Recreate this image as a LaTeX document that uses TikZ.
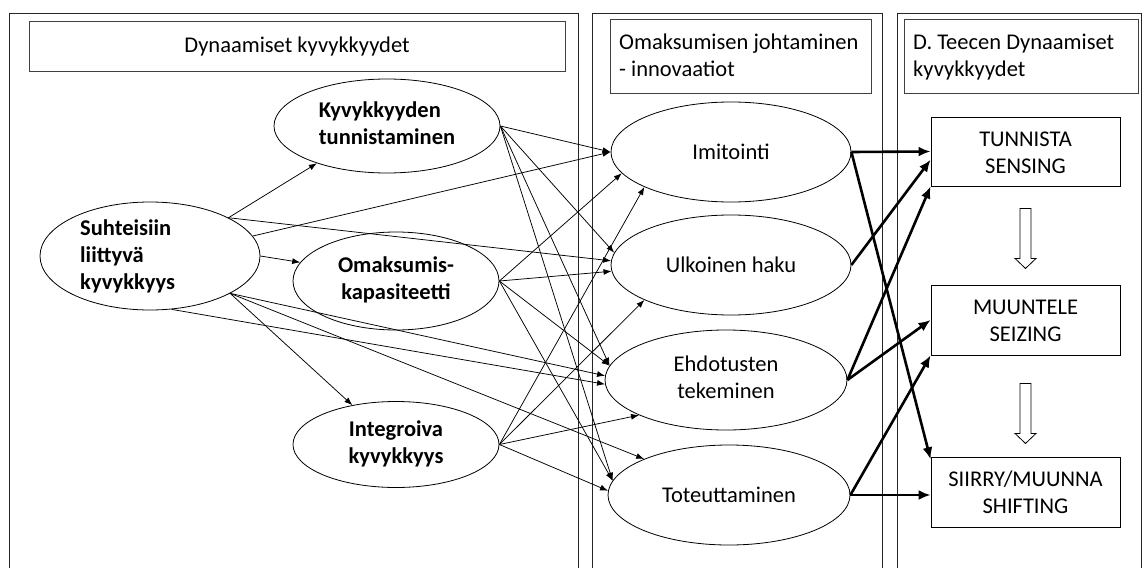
\documentclass[tikz,border=0pt]{standalone}
\usepackage{fontspec}
\setmainfont{Carlito}
\usetikzlibrary{shapes.geometric,arrows.meta,calc}

% a hollow block arrow pointing down, hung from a top-centre coordinate
\newcommand{\hollowdown}[1]{%
  \draw[hollow] ($(#1)+(-5.5,0)$) -- ++(11,0) -- ++(0,50) -- ++(5,0)
    -- ++(-10.5,10) -- ++(-10.5,-10) -- ++(5,0) -- cycle;}
% line strut for capital-letter labels, so they sit centred in their boxes
\newcommand{\capstrut}{\rule[-5.1pt]{0pt}{27pt}}

\begin{document}
\begin{tikzpicture}[x=1pt,y=-1pt,
  every node/.style={font=\fontsize{22.5}{27}\selectfont, inner sep=0pt},
  panel/.style={draw=black!85, line width=0.9pt},
  titlebox/.style={draw=black!75, line width=1pt, rectangle},
  oval/.style={draw, ellipse, line width=0.8pt},
  bold/.style={font=\fontsize{22.5}{27}\selectfont\bfseries},
  stage/.style={draw, rectangle, line width=0.9pt, minimum width=189pt,
    minimum height=69pt, align=center},
  link/.style={line width=0.75pt, -{Latex[length=8pt,width=6pt]}},
  flow/.style={line width=2.6pt, -{Latex[length=12pt,width=10pt]}},
  hollow/.style={draw, line width=0.8pt, fill=white}]

\clip (0,0) rectangle (1142,567);

% three column panels, open at the bottom
\draw[panel] (9,13) rectangle (578,620);
\draw[panel] (592,13) rectangle (882,620);
\draw[panel] (897,13) rectangle (1141,620);

% column headings
\node[titlebox, minimum width=536pt, minimum height=50pt] (h1) at (297,47)
  {Dynaamiset kyvykkyydet};
\node[titlebox, minimum width=261pt, minimum height=74pt] (h2) at (740.5,57) {};
\node[anchor=west, align=left] (h2t) at (619,57.5)
  {\strut Omaksumisen johtaminen\\\strut - innovaatiot};
\node[titlebox, minimum width=234pt, minimum height=74pt] (h3) at (1021,57) {};
\node[anchor=west, align=left] (h3t) at (913,57.5)
  {\strut D. Teecen Dynaamiset\\\strut kyvykkyydet};

% capabilities
\node[oval, minimum width=220pt, minimum height=108pt] (suh) at (150,256) {};
\node[bold, anchor=west, align=left] (suht) at (80,257)
  {\strut Suhteisiin\\\strut liittyvä\\\strut kyvykkyys};
\node[oval, bold, align=left, minimum width=226pt, minimum height=94pt] (kyv) at (387,126)
  {\strut Kyvykkyyden\\\strut tunnistaminen};
\node[oval, bold, align=center, minimum width=206pt, minimum height=98pt] (oma) at (396,281)
  {\strut Omaksumis-\\\strut kapasiteetti};
\node[oval, bold, align=center, minimum width=206pt, minimum height=86pt] (int) at (396,444.5)
  {\strut Integroiva\\\strut kyvykkyys};

% absorption management
\node[oval, minimum width=240pt, minimum height=100pt] (imi) at (731,152) {Imitointi};
\node[oval, minimum width=240pt, minimum height=100pt] (ulk) at (731,265) {Ulkoinen haku};
\node[oval, align=center, minimum width=242pt, minimum height=100pt] (ehd) at (726,380)
  {\strut Ehdotusten\\\strut tekeminen};
\node[oval, minimum width=242pt, minimum height=100pt] (tot) at (729,495) {Toteuttaminen};

% Teece stages
\node[stage] (tun) at (1025.5,151.5) {\capstrut TUNNISTA\\\capstrut SENSING};
\node[stage, minimum height=70pt] (muu) at (1025.5,320) {\capstrut MUUNTELE\\\capstrut SEIZING};
\node[stage, minimum height=70pt] (shi) at (1025.5,492) {\capstrut SIIRRY/MUUNNA\\\capstrut SHIFTING};

% relational capability
\draw[link] (suh.26) -- (kyv.208);
\draw[link] (suh.11) -- (imi.west);
\draw[link] (suh.26) -- (ulk.178);
\draw[link] (suh.east) -- (oma.169);
\draw[link] (suh.-25) -- (ehd.178);
\draw[link] (suh.-68) -- (ehd.182);
\draw[link] (suh.-25) -- (tot.157);
\draw[link] (suh.-25) -- (int.138);

% capability recognition
\draw[link] (kyv.east) -- (imi.west);
\draw[link] (kyv.east) -- (ulk.174);
\draw[link] (kyv.east) -- (ehd.173);
\draw[link] (kyv.east) -- (tot.173);

% absorptive capacity
\draw[link] (oma.east) -- (imi.191);
\draw[link] (oma.east) -- (ulk.183);
\draw[link] (oma.east) -- (ehd.173);
\draw[link] (oma.east) -- (tot.173);

% integrative capability
\draw[link] (int.east) -- (imi.202);
\draw[link] (int.east) -- (ulk.202);
\draw[link] (int.east) -- (ehd.202);
\draw[link] (int.east) -- (tot.178);

% into the dynamic capabilities
\draw[flow] (imi.east) -- (tun.west);
\draw[flow] (imi.east) -- (shi.161);
\draw[flow] (ulk.east) -- (tun.185);
\draw[flow] (ehd.east) -- (tun.south west);
\draw[flow] (ehd.east) -- (muu.west);
\draw[flow] (tot.east) -- (muu.south west);
\draw[flow] (tot.east) -- (tot.east -| shi.west);

% sequence between the stages
\coordinate (d1) at ($(tun.south)+(0,22)$);
\coordinate (d2) at ($(muu.south)+(0,28)$);
\hollowdown{d1}
\hollowdown{d2}
\end{tikzpicture}
\end{document}
